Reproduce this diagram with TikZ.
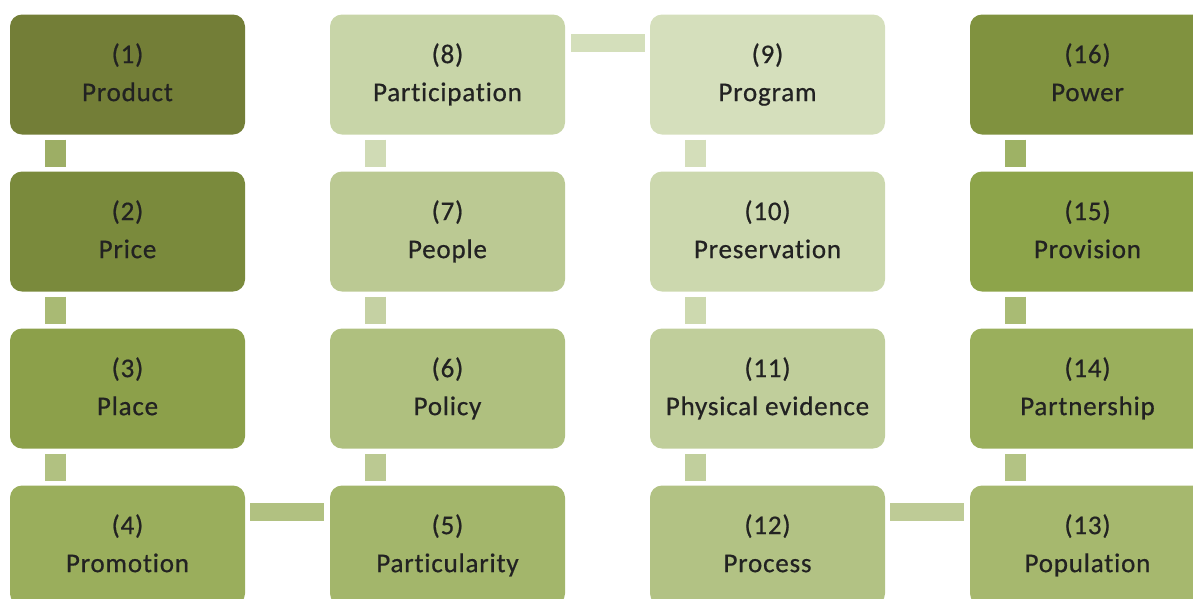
\documentclass[tikz,border=0pt]{standalone}
\usepackage{fontspec}
\setmainfont{Carlito}
\newfontfamily\boxfont{Carlito}[RawFeature={embolden=0.6},LetterSpace=3,Ligatures={NoCommon}]
\usetikzlibrary{calc}
\definecolor{c1}{HTML}{737E37}
\definecolor{c2}{HTML}{7A8A3C}
\definecolor{c3}{HTML}{8CA04A}
\definecolor{c4}{HTML}{9AAE5C}
\definecolor{c5}{HTML}{A3B66B}
\definecolor{c6}{HTML}{AFC07F}
\definecolor{c7}{HTML}{BBC993}
\definecolor{c8}{HTML}{C8D5A8}
\definecolor{c9}{HTML}{D5DFBC}
\definecolor{c10}{HTML}{CCD8AE}
\definecolor{c11}{HTML}{C0CE9B}
\definecolor{c12}{HTML}{B2C284}
\definecolor{c13}{HTML}{A6B86E}
\definecolor{c14}{HTML}{9AAF5C}
\definecolor{c15}{HTML}{8DA44A}
\definecolor{c16}{HTML}{80923F}
\definecolor{txt}{HTML}{222222}
\newcommand{\bt}[2]{\raisebox{4pt}{\begin{tabular}{@{}c@{}}(#1)\\#2\end{tabular}}}
\tikzset{
  box/.style={rectangle, rounded corners=12pt, minimum width=235pt, minimum height=120pt,
    inner sep=0pt, align=center, text=txt, font=\boxfont\fontsize{27}{38}\selectfont},
  vconn/.style={line width=21pt},
  hconn/.style={line width=18pt},
}
\begin{document}
\begin{tikzpicture}[x=1pt,y=-1pt]
\useasboundingbox (0,0) rectangle (1193,598);
\clip (0,0) rectangle (1193,598);
% boxes
\node[box, fill=c1]  (b1)  at (127.5,74.5)  {\bt{1}{Product}};
\node[box, fill=c2]  (b2)  at (127.5,231.5) {\bt{2}{Price}};
\node[box, fill=c3]  (b3)  at (127.5,388.5) {\bt{3}{Place}};
\node[box, fill=c4]  (b4)  at (127.5,545.5) {\bt{4}{Promotion}};
\node[box, fill=c5]  (b5)  at (447.5,545.5) {\bt{5}{Particularity}};
\node[box, fill=c6]  (b6)  at (447.5,388.5) {\bt{6}{Policy}};
\node[box, fill=c7]  (b7)  at (447.5,231.5) {\bt{7}{People}};
\node[box, fill=c8]  (b8)  at (447.5,74.5)  {\bt{8}{Participation}};
\node[box, fill=c9]  (b9)  at (767.5,74.5)  {\bt{9}{Program}};
\node[box, fill=c10] (b10) at (767.5,231.5) {\bt{10}{Preservation}};
\node[box, fill=c11] (b11) at (767.5,388.5) {\bt{11}{Physical evidence}};
\node[box, fill=c12] (b12) at (767.5,545.5) {\bt{12}{Process}};
\node[box, fill=c13] (b13) at (1087.5,545.5) {\bt{13}{Population}};
\node[box, fill=c14] (b14) at (1087.5,388.5) {\bt{14}{Partnership}};
\node[box, fill=c15] (b15) at (1087.5,231.5) {\bt{15}{Provision}};
\node[box, fill=c16] (b16) at (1087.5,74.5)  {\bt{16}{Power}};
% vertical connectors (upper box -- lower box)
\draw[vconn, draw=c3!85!white]  ($(b1.south west)+(45.5,5)$)  -- ($(b2.north west)+(45.5,-4)$);
\draw[vconn, draw=c4!85!white]  ($(b2.south west)+(45.5,5)$)  -- ($(b3.north west)+(45.5,-4)$);
\draw[vconn, draw=c5!85!white]  ($(b3.south west)+(45.5,5)$)  -- ($(b4.north west)+(45.5,-4)$);
\draw[vconn, draw=c8!85!white]  ($(b8.south west)+(45.5,5)$)  -- ($(b7.north west)+(45.5,-4)$);
\draw[vconn, draw=c7!85!white]  ($(b7.south west)+(45.5,5)$)  -- ($(b6.north west)+(45.5,-4)$);
\draw[vconn, draw=c6!85!white]  ($(b6.south west)+(45.5,5)$)  -- ($(b5.north west)+(45.5,-4)$);
\draw[vconn, draw=c9!90!c8]     ($(b9.south west)+(45.5,5)$)  -- ($(b10.north west)+(45.5,-4)$);
\draw[vconn, draw=c10!90!c9]    ($(b10.south west)+(45.5,5)$) -- ($(b11.north west)+(45.5,-4)$);
\draw[vconn, draw=c11!90!c10]   ($(b11.south west)+(45.5,5)$) -- ($(b12.north west)+(45.5,-4)$);
\draw[vconn, draw=c15!85!white] ($(b16.south west)+(45.5,5)$) -- ($(b15.north west)+(45.5,-4)$);
\draw[vconn, draw=c14!85!white] ($(b15.south west)+(45.5,5)$) -- ($(b14.north west)+(45.5,-4)$);
\draw[vconn, draw=c13!85!white] ($(b14.south west)+(45.5,5)$) -- ($(b13.north west)+(45.5,-4)$);
% horizontal connectors
\draw[hconn, draw=c5!85!white]  ($(b4.north east)+(5,27)$) -- ($(b5.north west)+(-6,27)$);
\draw[hconn, draw=c9!95!c8]     ($(b8.north east)+(6,29)$) -- ($(b9.north west)+(-5,29)$);
\draw[hconn, draw=c12!85!white] ($(b12.north east)+(5,27)$) -- ($(b13.north west)+(-6,27)$);
\end{tikzpicture}
\end{document}
